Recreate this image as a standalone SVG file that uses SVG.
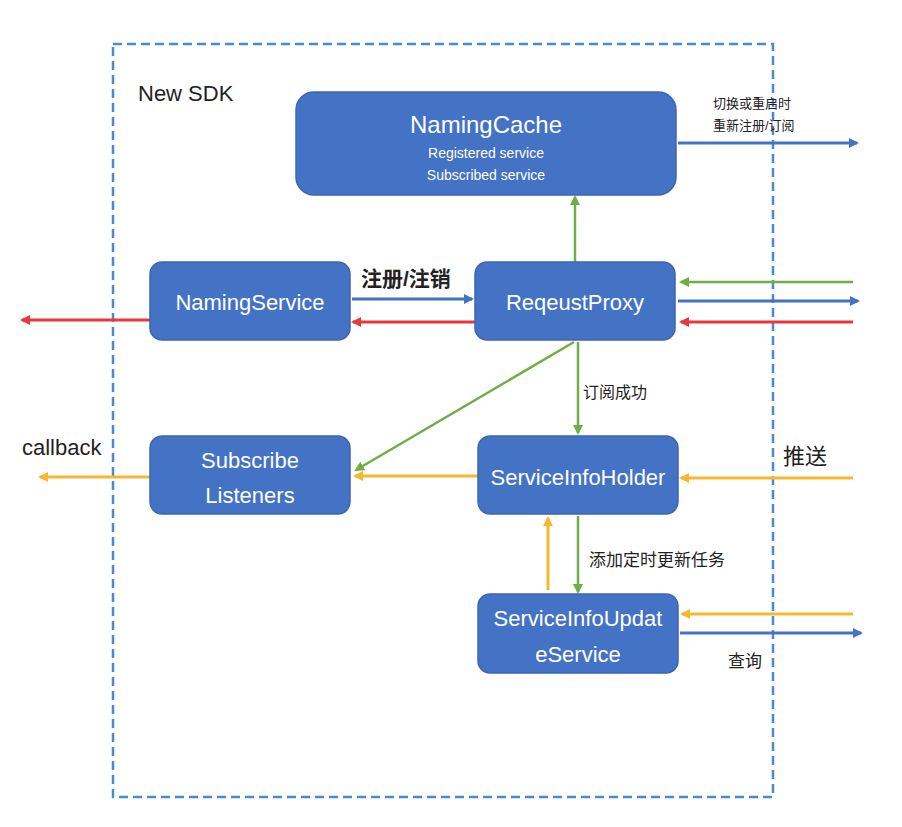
<svg xmlns="http://www.w3.org/2000/svg" width="902" height="827" viewBox="0 0 902 827">
<style>
.node{fill:#4472c4;stroke:#3b65b3;stroke-width:1.5}
.nt{font-family:"Liberation Sans",Arial,sans-serif;fill:#ffffff;text-anchor:middle}
.lbl{font-family:"Liberation Sans","Noto Sans CJK SC",sans-serif;fill:#222222}
.b{stroke:#4472c4;stroke-width:3;fill:none}
.r{stroke:#e8383d;stroke-width:3;fill:none}
.g{stroke:#70ad47;stroke-width:2.5;fill:none}
.y{stroke:#f5b82e;stroke-width:3;fill:none}
</style>
<defs>
<marker id="ab" markerWidth="10" markerHeight="10" refX="8" refY="5" orient="auto" markerUnits="userSpaceOnUse"><path d="M0,0 L10,5 L0,10 Z" fill="#4472c4"/></marker>
<marker id="ar" markerWidth="10" markerHeight="10" refX="8" refY="5" orient="auto" markerUnits="userSpaceOnUse"><path d="M0,0 L10,5 L0,10 Z" fill="#e8383d"/></marker>
<marker id="ag" markerWidth="10" markerHeight="10" refX="8" refY="5" orient="auto" markerUnits="userSpaceOnUse"><path d="M0,0 L10,5 L0,10 Z" fill="#70ad47"/></marker>
<marker id="ay" markerWidth="10" markerHeight="10" refX="8" refY="5" orient="auto" markerUnits="userSpaceOnUse"><path d="M0,0 L10,5 L0,10 Z" fill="#f5b82e"/></marker>
</defs>
<rect width="902" height="827" fill="#ffffff"/>
<rect id="sdk" x="113" y="44" width="660" height="753" fill="none" stroke="#4a8ad0" stroke-width="2.5" stroke-dasharray="9,5"/>
<text class="lbl" x="138" y="101" font-size="22">New SDK</text>

<g id="connectors">
<line class="b" x1="678" y1="143" x2="857" y2="143" marker-end="url(#ab)"/>
<line class="b" x1="352" y1="299" x2="472" y2="299" marker-end="url(#ab)"/>
<line class="r" x1="475" y1="322" x2="353" y2="322" marker-end="url(#ar)"/>
<line class="r" x1="150" y1="320" x2="22" y2="320" marker-end="url(#ar)"/>
<line class="g" x1="853" y1="282" x2="681" y2="282" marker-end="url(#ag)"/>
<line class="b" x1="678" y1="301" x2="858" y2="301" marker-end="url(#ab)"/>
<line class="r" x1="853" y1="322" x2="681" y2="322" marker-end="url(#ar)"/>
<line class="g" x1="575" y1="262" x2="575" y2="197" marker-end="url(#ag)"/>
<line class="g" x1="574" y1="342" x2="356" y2="470" marker-end="url(#ag)"/>
<line class="g" x1="578" y1="342" x2="578" y2="433" marker-end="url(#ag)"/>
<line class="y" x1="478" y1="476" x2="355" y2="476" marker-end="url(#ay)"/>
<line class="y" x1="150" y1="477" x2="40" y2="477" marker-end="url(#ay)"/>
<line class="y" x1="853" y1="478" x2="681" y2="478" marker-end="url(#ay)"/>
<line class="y" x1="548" y1="590" x2="548" y2="518" marker-end="url(#ay)"/>
<line class="g" x1="578" y1="516" x2="578" y2="592" marker-end="url(#ag)"/>
<line class="y" x1="853" y1="614" x2="682" y2="614" marker-end="url(#ay)"/>
<line class="b" x1="680" y1="633" x2="861" y2="633" marker-end="url(#ab)"/>
</g>

<g id="labels">
<text class="lbl" x="713" y="108" font-size="13">切换或重启时</text>
<text class="lbl" x="713" y="130" font-size="13">重新注册/订阅</text>
<text class="lbl" x="361" y="286" font-size="21" font-weight="bold">注册/注销</text>
<text class="lbl" x="583" y="398" font-size="16">订阅成功</text>
<text class="lbl" x="22" y="455" font-size="22">callback</text>
<text class="lbl" x="783" y="464" font-size="22">推送</text>
<text class="lbl" x="589" y="566" font-size="17">添加定时更新任务</text>
<text class="lbl" x="728" y="667" font-size="17">查询</text>
</g>

<g id="NamingCache">
<rect class="node" x="296" y="92" width="380" height="103" rx="18"/>
<text class="nt" x="486" y="133" font-size="24">NamingCache</text>
<text class="nt" x="486" y="158" font-size="14">Registered service</text>
<text class="nt" x="486" y="180" font-size="14">Subscribed service</text>
</g>
<g id="NamingService">
<rect class="node" x="150" y="262" width="200" height="78" rx="12"/>
<text class="nt" x="250" y="310" font-size="22">NamingService</text>
</g>
<g id="ReqeustProxy">
<rect class="node" x="475" y="262" width="200" height="78" rx="12"/>
<text class="nt" x="575" y="310" font-size="22">ReqeustProxy</text>
</g>
<g id="SubscribeListeners">
<rect class="node" x="150" y="436" width="200" height="78" rx="12"/>
<text class="nt" x="250" y="468" font-size="22">Subscribe</text>
<text class="nt" x="250" y="503" font-size="22">Listeners</text>
</g>
<g id="ServiceInfoHolder">
<rect class="node" x="478" y="436" width="200" height="78" rx="12"/>
<text class="nt" x="578" y="485" font-size="22">ServiceInfoHolder</text>
</g>
<g id="ServiceInfoUpdateService">
<rect class="node" x="478" y="594" width="200" height="79" rx="12"/>
<text class="nt" x="578" y="626" font-size="22">ServiceInfoUpdat</text>
<text class="nt" x="578" y="662" font-size="22">eService</text>
</g>
</svg>
